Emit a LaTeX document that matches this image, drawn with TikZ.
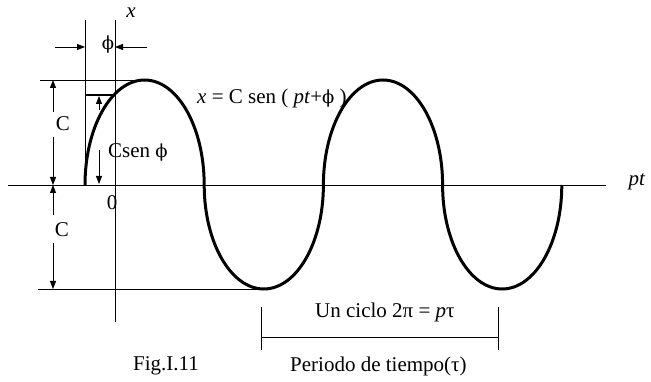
\documentclass[tikz,border=0pt]{standalone}
\usepackage{fontspec}
\setmainfont{Liberation Serif}
\newfontfamily\phifont{DejaVu Serif}
\newcommand{\myphi}{{\phifont\fontsize{18}{20}\selectfont ϕ}}
\usetikzlibrary{arrows.meta}
\begin{document}
\begin{tikzpicture}[x=1pt,y=-1pt,
  thinline/.style={line width=0.8pt},
  dimarrow/.style={line width=0.8pt,-{Triangle[length=8pt,width=6pt]}},
  wave/.style={line width=3pt},
  lbl/.style={font=\fontsize{21}{23}\selectfont, inner sep=0pt}]
\useasboundingbox[fill=white] (0,0) rectangle (651,382);
% axes and guide lines
\draw[thinline] (8,185) -- (606,185);
\draw[thinline] (115,20) -- (115,322);
\draw[thinline] (85,20) -- (85,185);
\draw[thinline] (40,80) -- (144,80);
\draw[thinline] (38,289) -- (264,289);
\draw[line width=2pt] (85,95) -- (115,95);
% wave
\draw[wave] (85,185)
  arc[start angle=180,end angle=360,x radius=59.6,y radius=105]
  arc[start angle=180,end angle=0,x radius=59.6,y radius=104]
  arc[start angle=180,end angle=360,x radius=59.6,y radius=105]
  arc[start angle=180,end angle=0,x radius=59.6,y radius=104];
% phi dimension
\draw[dimarrow] (55,47) -- (85,47);
\draw[dimarrow] (147,47) -- (115,47);
% C upper
\draw[dimarrow] (53,112) -- (53,80);
\draw[dimarrow] (53,137) -- (53,185);
% C lower
\draw[dimarrow] (53,215) -- (53,185);
\draw[dimarrow] (53,243) -- (53,289);
% Csen phi
\draw[dimarrow] (99,110) -- (99,96);
\draw[dimarrow] (99,150) -- (99,184);
% period bracket
\draw[thinline] (261,307) -- (261,350);
\draw[thinline] (498,307) -- (498,350);
\draw[thinline] (261,337) -- (498,337);
% labels
\node[lbl] (xlab) at (131,13) {\textit{x}};
\node[lbl] (philab) at (108,45) {\myphi};
\node[lbl,anchor=west] (eq) at (197,98) {\textit{x} = C sen ( \textit{pt}+\myphi\ )};
\node[lbl] (cup) at (63,124) {C};
\node[lbl] (clow) at (62,230) {C};
\node[lbl,anchor=west] (csen) at (108,152) {Csen \myphi};
\node[lbl] (zero) at (112,203) {0};
\node[lbl] (pt) at (637,182) {\textit{pt}};
\node[lbl,anchor=west] (ciclo) at (315,312) {Un ciclo 2π = \textit{p}τ};
\node[lbl,anchor=west] (fig) at (133,366) {Fig.I.11};
\node[lbl,anchor=west] (periodo) at (290,366) {Periodo de tiempo(τ)};
\end{tikzpicture}
\end{document}
